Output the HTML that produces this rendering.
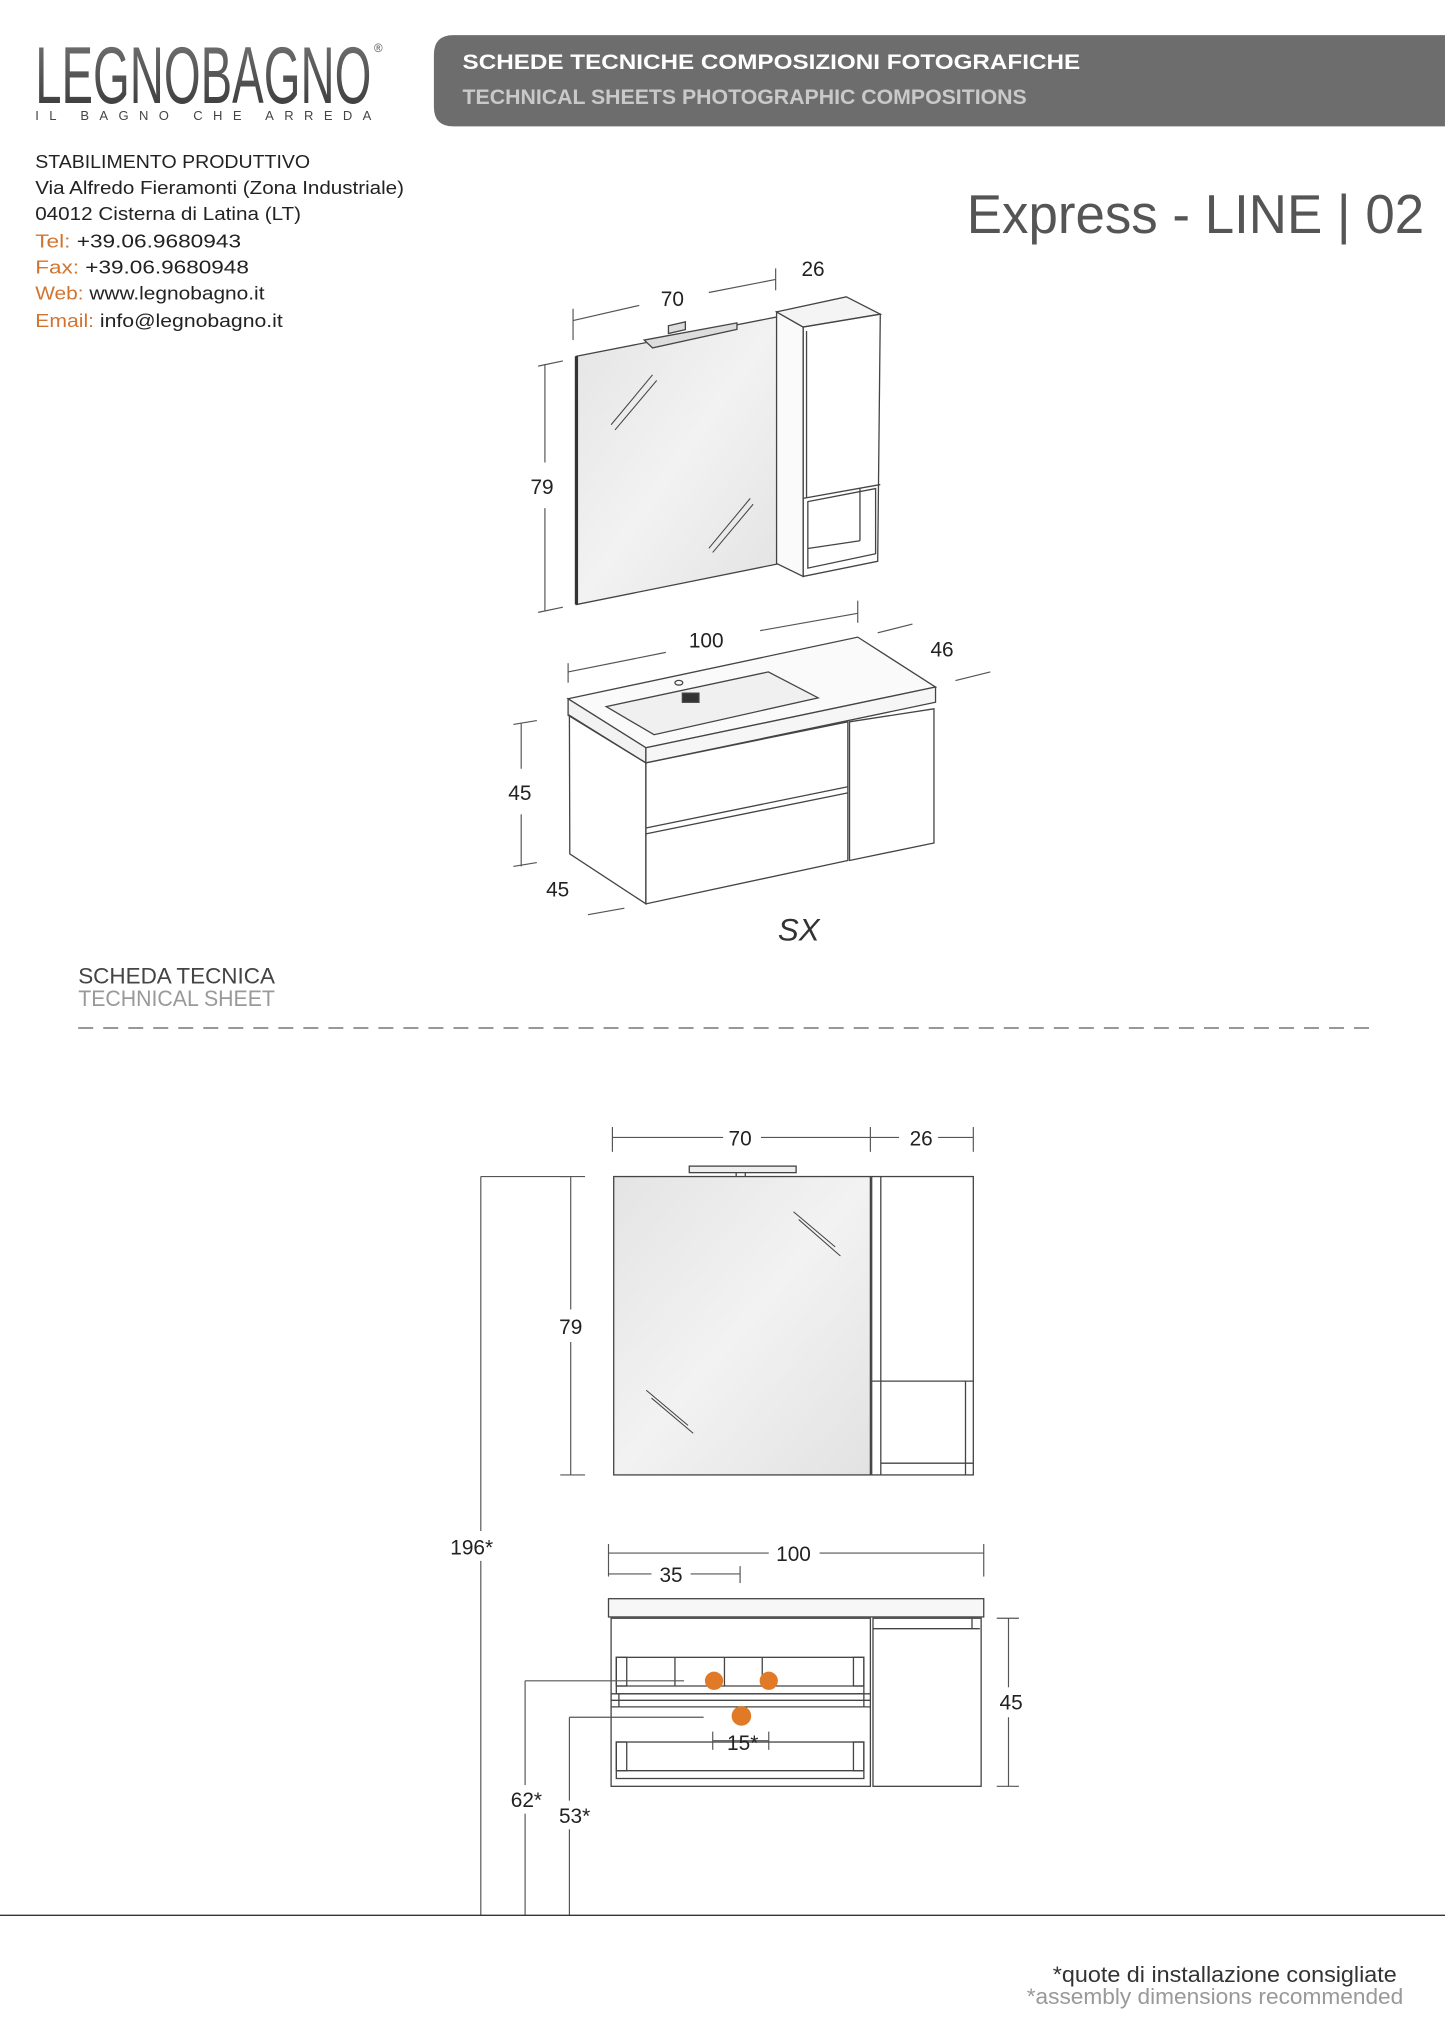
<!DOCTYPE html>
<html><head><meta charset="utf-8"><style>
html,body{margin:0;padding:0;background:#fff}
svg{display:block}
text{font-family:"Liberation Sans","DejaVu Sans",sans-serif}
</style></head><body>
<svg width="1445" height="2043" viewBox="0 0 1109 1568" xmlns="http://www.w3.org/2000/svg">
<defs>
<linearGradient id="mg" x1="0" y1="0" x2="1" y2="1"><stop offset="0" stop-color="#e4e4e4"/><stop offset="0.5" stop-color="#f2f2f2"/><stop offset="1" stop-color="#e2e2e2"/></linearGradient>
<linearGradient id="lg" x1="0" y1="0" x2="0" y2="1"><stop offset="0" stop-color="#777"/><stop offset="1" stop-color="#333"/></linearGradient>
</defs>
<rect width="1109" height="1568" fill="#fff"/>
<!-- logo -->
<text x="27" y="79" font-size="62" fill="url(#lg)" textLength="258" lengthAdjust="spacingAndGlyphs">LEGNOBAGNO</text>
<text x="287" y="40" font-size="9" fill="#555">®</text>
<text x="27" y="92" font-size="10" fill="#444" textLength="258" lengthAdjust="spacing">IL BAGNO CHE ARREDA</text>
<!-- header bar -->
<path d="M348,27 H1109 V97 H348 Q333,97 333,82 V42 Q333,27 348,27 Z" fill="#6d6d6d"/>
<text x="355" y="53" font-size="16" font-weight="bold" fill="#fff" textLength="474" lengthAdjust="spacingAndGlyphs">SCHEDE TECNICHE COMPOSIZIONI FOTOGRAFICHE</text>
<text x="355" y="80" font-size="16" font-weight="bold" fill="#c9c9c9" textLength="433" lengthAdjust="spacingAndGlyphs">TECHNICAL SHEETS PHOTOGRAPHIC COMPOSITIONS</text>
<!-- address -->
<g font-size="14.5" fill="#222">
<text x="27" y="129" textLength="211" lengthAdjust="spacingAndGlyphs">STABILIMENTO PRODUTTIVO</text>
<text x="27" y="149" textLength="283" lengthAdjust="spacingAndGlyphs">Via Alfredo Fieramonti (Zona Industriale)</text>
<text x="27" y="169" textLength="204" lengthAdjust="spacingAndGlyphs">04012 Cisterna di Latina (LT)</text>
<text x="27" y="190" textLength="158" lengthAdjust="spacingAndGlyphs"><tspan fill="#d2742f">Tel:</tspan> +39.06.9680943</text>
<text x="27" y="210" textLength="164" lengthAdjust="spacingAndGlyphs"><tspan fill="#d2742f">Fax:</tspan> +39.06.9680948</text>
<text x="27" y="230" textLength="176" lengthAdjust="spacingAndGlyphs"><tspan fill="#d2742f">Web:</tspan> www.legnobagno.it</text>
<text x="27" y="251" textLength="190" lengthAdjust="spacingAndGlyphs"><tspan fill="#d2742f">Email:</tspan> info@legnobagno.it</text>
</g>
<text x="742" y="179" font-size="42" fill="#555" textLength="351" lengthAdjust="spacingAndGlyphs">Express - LINE | 02</text>

<!-- top perspective drawing -->
<g stroke="#444" stroke-width="1" fill="none">
<polygon points="442.4,273.4 598.6,242.8 598.6,432.5 442.4,464" fill="url(#mg)"/>
<line x1="442.4" y1="273.4" x2="442.4" y2="464" stroke-width="2.5" stroke="#333"/>
<polygon points="494.4,261 565.6,247.8 565.6,252.8 500.8,267" fill="#ddd"/>
<polygon points="513,256 513,250 526,247 526,253" fill="#ddd"/>
<line x1="469" y1="326" x2="500.8" y2="287.7" stroke-width="0.8"/><line x1="472" y1="330" x2="504" y2="292" stroke-width="0.8"/>
<line x1="544" y1="420.8" x2="575.8" y2="382.5" stroke-width="0.8"/><line x1="547" y1="424" x2="578" y2="387" stroke-width="0.8"/>
<polygon points="596,239.4 616.4,251 616.4,442.4 596,432.5" fill="#fafafa"/>
<polygon points="596,239.4 649.5,227.8 675.6,241.1 616.4,251" fill="#f4f4f4"/>
<polygon points="616.4,251 675.6,241.1 673.6,430.8 616.4,442.4"/>
<line x1="616.4" y1="382.5" x2="675.6" y2="371.9"/>
<line x1="619" y1="254" x2="619" y2="382"/>
<polygon points="620,385 672,375 672,425 620,436"/>
<line x1="620" y1="421" x2="660" y2="415"/><line x1="660" y1="415" x2="660" y2="375"/>
<!-- vanity -->
<polygon points="436,536.3 658.3,489 718,527.3 495.7,573.9" fill="#fafafa"/>
<polygon points="436,536.3 495.7,573.9 495.7,585.5 436,549" fill="#f2f2f2"/>
<polygon points="495.7,573.9 718,527.3 718,539 495.7,585.5" fill="#f6f6f6"/>
<polygon points="465.2,542.3 589.7,515.7 627.9,535.6 502,563.9" fill="#f0f0f0"/>
<rect x="523.7" y="532" width="12.7" height="7" fill="#333"/>
<ellipse cx="521" cy="524" rx="3" ry="1.8"/>
<polygon points="437,549 495.7,585.5 495.7,693.7 437.3,655.4"/>
<polygon points="495.7,585.5 650.7,554 650.7,660.4 495.7,693.7"/>
<line x1="495.7" y1="635.5" x2="650.7" y2="603.8"/><line x1="495.7" y1="640" x2="650.7" y2="608.5"/>
<polygon points="652,554 716.8,544 716.8,647 652,660.4"/>
</g>
<g stroke="#555" stroke-width="0.9" fill="none">
<line x1="439.8" y1="237" x2="439.8" y2="261"/><line x1="439.8" y1="246" x2="490.6" y2="234.4"/><line x1="544" y1="224.5" x2="595.3" y2="214.5"/><line x1="595.3" y1="206" x2="595.3" y2="222.8"/>
<line x1="418.2" y1="279.4" x2="418.2" y2="355"/><line x1="418.2" y1="390" x2="418.2" y2="469"/><line x1="413" y1="281" x2="432" y2="277"/><line x1="413" y1="470" x2="432" y2="466"/>
<line x1="436" y1="509" x2="436" y2="524"/><line x1="436" y1="515.7" x2="511" y2="500.7"/><line x1="583.4" y1="484" x2="658.3" y2="470.7"/><line x1="658.3" y1="461" x2="658.3" y2="478"/>
<line x1="673.6" y1="485.7" x2="700.3" y2="479"/><line x1="733.3" y1="522.3" x2="760" y2="515.7"/>
<line x1="400" y1="555" x2="400" y2="590"/><line x1="400" y1="625" x2="400" y2="665"/><line x1="394" y1="556" x2="412" y2="553"/><line x1="394" y1="665" x2="412" y2="662"/>
<line x1="451.3" y1="702" x2="479.2" y2="697"/>
</g>
<g font-size="16" fill="#222" text-anchor="middle">
<text x="516" y="235">70</text><text x="624" y="212">26</text><text x="416" y="379">79</text>
<text x="542" y="497">100</text><text x="723" y="504">46</text><text x="399" y="614">45</text><text x="428" y="688">45</text>
</g>
<text x="613" y="722" font-size="24" font-style="italic" fill="#333" text-anchor="middle">SX</text>

<!-- section header -->
<text x="60" y="755" font-size="17" fill="#444" textLength="151" lengthAdjust="spacingAndGlyphs">SCHEDA TECNICA</text>
<text x="60" y="772" font-size="17" fill="#999" textLength="151" lengthAdjust="spacingAndGlyphs">TECHNICAL SHEET</text>
<line x1="60" y1="789" x2="1055" y2="789" stroke="#777" stroke-width="1.2" stroke-dasharray="11.5,7.7"/>

<!-- bottom front drawing -->
<g stroke="#444" stroke-width="1" fill="none">
<rect x="471" y="903" width="197" height="229" fill="url(#mg)"/>
<rect x="529" y="895" width="82" height="5" fill="#eee"/><line x1="565" y1="900" x2="565" y2="903"/><line x1="572" y1="900" x2="572" y2="903"/>
<line x1="609" y1="930" x2="641" y2="957" stroke-width="0.8"/><line x1="613" y1="936" x2="645" y2="964" stroke-width="0.8"/>
<line x1="496" y1="1067" x2="528" y2="1094" stroke-width="0.8"/><line x1="500" y1="1073" x2="532" y2="1100" stroke-width="0.8"/>
<rect x="669" y="903" width="78" height="229"/>
<line x1="676" y1="903" x2="676" y2="1132"/><line x1="669" y1="1060" x2="747" y2="1060"/>
<line x1="676" y1="1123" x2="747" y2="1123"/><line x1="741" y1="1060" x2="741" y2="1132"/>
<rect x="467" y="1227" width="288" height="14" fill="#f7f7f7"/>
<rect x="469" y="1242" width="199" height="129"/>
<rect x="670" y="1242" width="83" height="129"/>
<line x1="670" y1="1250" x2="752" y2="1250"/><line x1="746" y1="1242" x2="746" y2="1250"/>
<line x1="469" y1="1300" x2="668" y2="1300"/><line x1="469" y1="1305" x2="668" y2="1305"/>
<line x1="469" y1="1310" x2="668" y2="1310"/><line x1="475" y1="1300" x2="475" y2="1310"/><line x1="663" y1="1300" x2="663" y2="1310"/>
<rect x="473" y="1272" width="190" height="28"/><rect x="473" y="1272" width="8" height="22"/><rect x="655" y="1272" width="8" height="22"/>
<line x1="473" y1="1294" x2="663" y2="1294"/><line x1="518" y1="1272" x2="518" y2="1294"/><line x1="556" y1="1272" x2="556" y2="1294"/><line x1="585" y1="1272" x2="585" y2="1294"/>
<rect x="473" y="1337" width="190" height="28"/><rect x="473" y="1337" width="8" height="22"/><rect x="655" y="1337" width="8" height="22"/>
<line x1="473" y1="1359" x2="663" y2="1359"/>
</g>
<g fill="#e07a27"><circle cx="548" cy="1290" r="7"/><circle cx="590" cy="1290" r="7"/><circle cx="569" cy="1317" r="7.5"/></g>
<g stroke="#555" stroke-width="0.9" fill="none">
<line x1="470" y1="865" x2="470" y2="884"/><line x1="470" y1="873" x2="555" y2="873"/><line x1="584" y1="873" x2="690" y2="873"/><line x1="668" y1="865" x2="668" y2="884"/><line x1="720" y1="873" x2="747" y2="873"/><line x1="747" y1="865" x2="747" y2="884"/>
<line x1="369" y1="903" x2="437" y2="903"/><line x1="369" y1="903" x2="369" y2="1175"/><line x1="369" y1="1198" x2="369" y2="1470"/>
<line x1="430" y1="903" x2="449" y2="903"/><line x1="438" y1="903" x2="438" y2="1005"/><line x1="438" y1="1030" x2="438" y2="1132"/><line x1="430" y1="1132" x2="449" y2="1132"/>
<line x1="467" y1="1185" x2="467" y2="1210"/><line x1="467" y1="1192" x2="590" y2="1192"/><line x1="629" y1="1192" x2="755" y2="1192"/><line x1="755" y1="1185" x2="755" y2="1210"/>
<line x1="467" y1="1208" x2="500" y2="1208"/><line x1="530" y1="1208" x2="568" y2="1208"/><line x1="568" y1="1202" x2="568" y2="1215"/>
<line x1="765" y1="1242" x2="782" y2="1242"/><line x1="774" y1="1242" x2="774" y2="1295"/><line x1="774" y1="1318" x2="774" y2="1371"/><line x1="765" y1="1371" x2="782" y2="1371"/>
<line x1="403" y1="1290" x2="525" y2="1290"/><line x1="403" y1="1290" x2="403" y2="1370"/><line x1="403" y1="1392" x2="403" y2="1470"/>
<line x1="437" y1="1318" x2="540" y2="1318"/><line x1="437" y1="1318" x2="437" y2="1382"/><line x1="437" y1="1404" x2="437" y2="1470"/>
<line x1="547" y1="1329" x2="547" y2="1343"/><line x1="590" y1="1329" x2="590" y2="1343"/><line x1="547" y1="1336" x2="590" y2="1336"/>
</g>
<line x1="0" y1="1470" x2="1109" y2="1470" stroke="#333" stroke-width="1"/>
<g font-size="16" fill="#222" text-anchor="middle">
<text x="568" y="879">70</text><text x="707" y="879">26</text><text x="438" y="1024">79</text>
<text x="362" y="1193">196*</text><text x="609" y="1198">100</text><text x="515" y="1214">35</text>
<text x="776" y="1312">45</text><text x="570" y="1343">15*</text><text x="404" y="1387">62*</text><text x="441" y="1399">53*</text>
</g>
<text x="1072" y="1521" font-size="17" fill="#333" text-anchor="end" textLength="264" lengthAdjust="spacingAndGlyphs">*quote di installazione consigliate</text>
<text x="1077" y="1538" font-size="17" fill="#999" text-anchor="end" textLength="289" lengthAdjust="spacingAndGlyphs">*assembly dimensions recommended</text>
</svg>
</body></html>
